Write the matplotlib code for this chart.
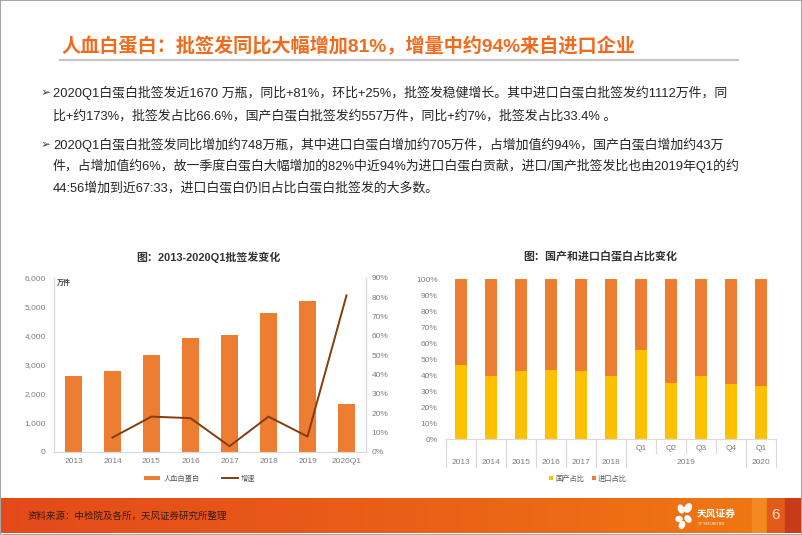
import numpy as np
import matplotlib
matplotlib.use("Agg")
import matplotlib.pyplot as plt
from matplotlib.patches import Rectangle, Ellipse
from matplotlib.lines import Line2D
from matplotlib.colors import LinearSegmentedColormap
import matplotlib.transforms as mtransforms

plt.rcParams['font.family'] = ['Liberation Sans', 'Noto Sans CJK SC', 'DejaVu Sans']

W, H = 802, 535

# ---- data: left chart (批签发, 万件 / 增速 %)
years = ['2013', '2014', '2015', '2016', '2017', '2018', '2019', '2020Q1']
volume = [2615, 2810, 3340, 3930, 4050, 4800, 5190, 1660]
growth_years = ['2014', '2015', '2016', '2017', '2018', '2019', '2020Q1']
growth = [7.5, 18.3, 17.5, 3.0, 18.3, 8.0, 81.0]

# ---- data: right chart (国产 / 进口 占比 %)
periods = ['2013', '2014', '2015', '2016', '2017', '2018',
           '2019Q1', '2019Q2', '2019Q3', '2019Q4', '2020Q1']
domestic = [46.2, 39.5, 42.2, 43.0, 42.6, 39.3, 55.9, 35.3, 39.1, 34.1, 33.4]
imported = [100 - d for d in domestic]

title = '人血白蛋白：批签发同比大幅增加81%，增量中约94%来自进口企业'
bullets = [
    ['2020Q1白蛋白批签发近1670 万瓶，同比+81%，环比+25%，批签发稳健增长。其中进口白蛋白批签发约1112万件，同',
     '比+约173%，批签发占比66.6%，国产白蛋白批签发约557万件，同比+约7%，批签发占比33.4% 。'],
    ['2020Q1白蛋白批签发同比增加约748万瓶，其中进口白蛋白增加约705万件，占增加值约94%，国产白蛋白增加约43万',
     '件，占增加值约6%，故一季度白蛋白大幅增加的82%中近94%为进口白蛋白贡献，进口/国产批签发比也由2019年Q1的约',
     '44:56增加到近67:33，进口白蛋白仍旧占比白蛋白批签发的大多数。'],
]
source = '资料来源：中检院及各所，天风证券研究所整理'

ORANGE = '#ED7D31'
YELLOW = '#FFC000'
BROWN = '#843C0C'
TICK = '#7F7F7F'
SPINE = '#D9D9D9'
TS = 6.0  # tick label size


def fx(x):
    return x / W


def fy(y):
    return 1 - y / H


def px_axes(x0, y0, x1, y1):
    return fig.add_axes([x0 / W, 1 - y1 / H, (x1 - x0) / W, (y1 - y0) / H])


fig = plt.figure(figsize=(W / 100, H / 100), dpi=100)
fig.patch.set_facecolor('white')

# header
fig.text(fx(61), fy(46), title, fontsize=13.8, fontweight='bold', color='#F26B1D',
         va='center', ha='left')
fig.add_artist(Line2D([fx(60), fx(738)], [fy(60), fy(60)], color='#C8C8C8', lw=1.6,
                      transform=fig.transFigure))

line_y = [[93, 116], [145, 166, 188]]
for blk, ys in zip(bullets, line_y):
    fig.text(fx(41), fy(ys[0]), '➢', fontsize=8.5, color='#404040', va='center', ha='left',
             family=['DejaVu Sans'])
    for txt, y in zip(blk, ys):
        fig.text(fx(53), fy(y), txt, fontsize=9.3, color='#262626', va='center', ha='left')

# ---- left chart
ax1 = px_axes(54, 278, 366, 452)
x = np.arange(len(years))
bars = ax1.bar(x, volume, width=0.42, color=ORANGE, label='人血白蛋白')
ax1.set_xlim(-0.5, len(years) - 0.5)
ax1.set_ylim(0, 6000)
ax1.set_yticks(np.arange(0, 6001, 1000))
ax1.set_yticklabels(['{:,}'.format(v) for v in range(0, 6001, 1000)])
ax1.set_xticks(x)
ax1.set_xticklabels(years)
ax1.tick_params(length=0, labelsize=TS, labelcolor=TICK)
ax1.tick_params(axis='y', pad=6)
ax1.tick_params(axis='x', pad=4)
ax1.spines['top'].set_visible(False)
for s in ['left', 'right', 'bottom']:
    ax1.spines[s].set_color(SPINE)
ax1.text(0.01, 0.97, '万件', transform=ax1.transAxes, fontsize=5, color='#404040',
         fontweight='bold', va='center', ha='left')

ax2 = ax1.twinx()
gx = [years.index(g) for g in growth_years]
line, = ax2.plot(gx, growth, color=BROWN, lw=1.4, label='增速')
ax2.set_ylim(0, 90)
ax2.set_yticks(np.arange(0, 91, 10))
ax2.set_yticklabels(['{}%'.format(v) for v in range(0, 91, 10)])
ax2.tick_params(length=0, labelsize=TS, labelcolor=TICK, pad=4)
ax2.spines['top'].set_visible(False)
for s in ['left', 'right', 'bottom']:
    ax2.spines[s].set_color(SPINE)

fig.text(fx(208), fy(257), '图：2013-2020Q1批签发变化', fontsize=7.9, fontweight='bold',
         color='#333333', ha='center', va='center')
fig.legend([bars, line], ['人血白蛋白', '增速'], loc='center', bbox_to_anchor=(fx(200), fy(479)),
           ncol=2, frameon=False, fontsize=5.2, handlelength=2.2, handleheight=0.6,
           columnspacing=3, handletextpad=0.5, labelcolor='#595959')

# ---- right chart
ax3 = px_axes(446, 279, 776, 439)
xr = np.arange(len(periods))
b_dom = ax3.bar(xr, domestic, width=0.43, color=YELLOW, label='国产占比')
b_imp = ax3.bar(xr, imported, width=0.43, bottom=domestic, color=ORANGE, label='进口占比')
ax3.set_xlim(-0.5, len(periods) - 0.5)
ax3.set_ylim(0, 100)
ax3.set_yticks(np.arange(0, 101, 10))
ax3.set_yticklabels(['{}%'.format(v) for v in range(0, 101, 10)])
ax3.set_xticks([])
ax3.tick_params(length=0, labelsize=TS, labelcolor=TICK, pad=6)
for s in ['left', 'right', 'top']:
    ax3.spines[s].set_visible(False)
ax3.spines['bottom'].set_color(SPINE)

trans = mtransforms.blended_transform_factory(ax3.transData, ax3.transAxes)
row_q, row_y, short_end, full_end = -0.0625, -0.145, -0.0875, -0.175
groups = {}
for i, p in enumerate(periods):
    yr, q = p[:4], p[4:]
    groups.setdefault(yr, []).append(i)
    if q:
        ax3.text(i, row_q, q, transform=trans, fontsize=TS, color=TICK, ha='center', va='center')
for yr, idx in groups.items():
    ax3.text(np.mean(idx), row_y, yr, transform=trans, fontsize=TS, color=TICK,
             ha='center', va='center')
    left, right = idx[0] - 0.5, idx[-1] + 0.5
    for b in (left, right):
        ax3.add_line(Line2D([b, b], [0, full_end], transform=trans, color=SPINE, lw=0.8,
                            clip_on=False))
    for i in idx[:-1]:
        ax3.add_line(Line2D([i + 0.5, i + 0.5], [0, short_end], transform=trans, color=SPINE,
                            lw=0.8, clip_on=False))

fig.text(fx(600), fy(257), '图：国产和进口白蛋白占比变化', fontsize=7.9, fontweight='bold',
         color='#333333', ha='center', va='center')
fig.legend([b_dom, b_imp], ['国产占比', '进口占比'], loc='center', bbox_to_anchor=(fx(588), fy(479)),
           ncol=2, frameon=False, fontsize=5.2, handlelength=0.6, handleheight=0.6,
           columnspacing=1.0, handletextpad=0.3, labelcolor='#595959')

# ---- footer band
axf = px_axes(0, 498, 802, 533)
cmap = LinearSegmentedColormap.from_list('band', ['#E4491B', '#EA5F18', '#F07A12'])
axf.imshow(np.linspace(0, 1, 256).reshape(1, -1), aspect='auto', cmap=cmap,
           extent=[0, 802, 0, 35])
axf.add_patch(Rectangle((752, 0), 15, 35, color='#F28A22'))
axf.add_patch(Rectangle((767, 0), 18, 35, color='#E35A1A'))
axf.add_patch(Rectangle((785, 0), 17, 35, color='#C93A18'))
axf.set_xlim(0, 802)
axf.set_ylim(0, 35)
axf.axis('off')
axf.text(28, 17, source, fontsize=6.8, color='#3A1A0A', va='center', ha='left')
axf.text(776, 18, '6', fontsize=11, color='#FBE3CF', va='center', ha='center')
for (ex, ey, w, h, a) in [(681, 24, 5, 8, 20), (688, 25, 6, 9, -30), (679, 14, 6, 5, 0),
                          (688, 14, 5, 7, 40), (682, 8, 5, 7, -20)]:
    axf.add_patch(Ellipse((ex, ey), w, h, angle=a, color='white'))
axf.text(697, 19, '天风证券', fontsize=7, color='white', fontweight='bold', va='center', ha='left')
axf.text(698, 9, 'TF SECURITIES', fontsize=2.5, color='white', va='center', ha='left')

# outer frame
fig.add_artist(Rectangle((0, 0), 1, 1, transform=fig.transFigure, fill=False,
                         edgecolor='#A6A6A6', lw=1.5))

fig.savefig('out.png', dpi=100)
